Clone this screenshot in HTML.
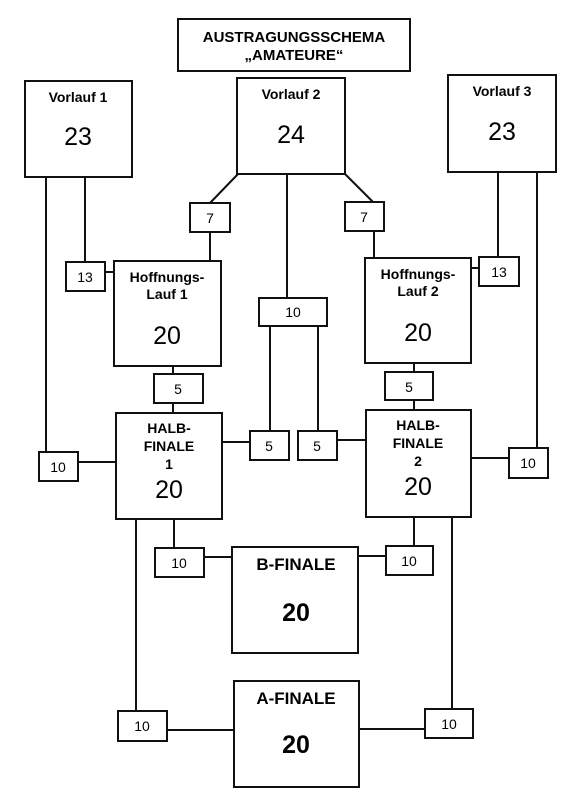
<!DOCTYPE html>
<html><head><meta charset="utf-8"><style>
html,body{margin:0;padding:0;background:#fff;}
svg{display:block;}
text{font-family:"Liberation Sans",Arial,sans-serif;fill:#000;text-anchor:middle;}
.b{font-weight:bold;font-size:14px;}
.t{font-weight:bold;font-size:15px;}
.n{font-size:25px;}
.nb{font-size:25px;font-weight:bold;}
.s{font-size:14px;}
</style></head><body>
<svg width="580" height="805" viewBox="0 0 580 805" xmlns="http://www.w3.org/2000/svg">
<g fill="none" stroke="#111" stroke-width="2">
<rect x="178" y="19" width="232" height="52"/>
<rect x="25" y="81" width="107" height="96"/>
<rect x="237" y="78" width="108" height="96"/>
<rect x="448" y="75" width="108" height="97"/>
<rect x="66" y="262" width="39" height="29"/>
<rect x="114" y="261" width="107" height="105"/>
<rect x="190" y="203" width="40" height="29"/>
<rect x="345" y="202" width="39" height="29"/>
<rect x="259" y="298" width="68" height="28"/>
<rect x="365" y="258" width="106" height="105"/>
<rect x="479" y="257" width="40" height="29"/>
<rect x="154" y="374" width="49" height="29"/>
<rect x="385" y="372" width="48" height="28"/>
<rect x="116" y="413" width="106" height="106"/>
<rect x="366" y="410" width="105" height="107"/>
<rect x="250" y="431" width="39" height="29"/>
<rect x="298" y="431" width="39" height="29"/>
<rect x="39" y="452" width="39" height="29"/>
<rect x="509" y="448" width="39" height="30"/>
<rect x="155" y="548" width="49" height="29"/>
<rect x="232" y="547" width="126" height="106"/>
<rect x="386" y="546" width="47" height="29"/>
<rect x="234" y="681" width="125" height="106"/>
<rect x="118" y="711" width="49" height="30"/>
<rect x="425" y="709" width="48" height="29"/>
<path d="M46 177V452 M85 177V262 M105 272H114 M238 174L210 203 M210 232V261 M287 174V298 M345 174L373 202 M374 231V258 M498 172V257 M471 268H479 M537 172V448 M270 326V431 M318 326V431 M173 366V374 M414 363V372 M173 403V413 M414 400V410 M78 462H116 M222 442H250 M337 440H366 M471 458H509 M174 519V548 M204 557H232 M358 556H386 M414 517V546 M136 519V711 M167 730H234 M359 729H425 M452 517V709"/>
</g>
<text class="t" x="294" y="42">AUSTRAGUNGSSCHEMA</text>
<text class="t" x="294" y="60">„AMATEURE“</text>
<text class="b" x="78" y="102">Vorlauf 1</text>
<text class="n" x="78" y="145">23</text>
<text class="b" x="291" y="99">Vorlauf 2</text>
<text class="n" x="291" y="143">24</text>
<text class="b" x="502" y="96">Vorlauf 3</text>
<text class="n" x="502" y="140">23</text>
<text class="s" x="85" y="282">13</text>
<text class="s" x="210" y="223">7</text>
<text class="s" x="364" y="222">7</text>
<text class="s" x="293" y="317">10</text>
<text class="s" x="499" y="277">13</text>
<text class="b" x="167" y="282">Hoffnungs-</text>
<text class="b" x="167" y="299">Lauf 1</text>
<text class="n" x="167" y="344">20</text>
<text class="b" x="418" y="279">Hoffnungs-</text>
<text class="b" x="418" y="296">Lauf 2</text>
<text class="n" x="418" y="341">20</text>
<text class="s" x="178" y="394">5</text>
<text class="s" x="409" y="392">5</text>
<text class="b" x="169" y="433">HALB-</text>
<text class="b" x="169" y="451">FINALE</text>
<text class="b" x="169" y="469">1</text>
<text class="n" x="169" y="498">20</text>
<text class="b" x="418" y="430">HALB-</text>
<text class="b" x="418" y="448">FINALE</text>
<text class="b" x="418" y="466">2</text>
<text class="n" x="418" y="495">20</text>
<text class="s" x="269" y="451">5</text>
<text class="s" x="317" y="451">5</text>
<text class="s" x="58" y="472">10</text>
<text class="s" x="528" y="468">10</text>
<text class="s" x="179" y="568">10</text>
<text class="s" x="409" y="566">10</text>
<text class="b" x="296" y="570" style="font-size:17px">B-FINALE</text>
<text class="nb" x="296" y="621">20</text>
<text class="s" x="142" y="731">10</text>
<text class="s" x="449" y="729">10</text>
<text class="b" x="296" y="704" style="font-size:17px">A-FINALE</text>
<text class="nb" x="296" y="753">20</text>
</svg>
</body></html>
